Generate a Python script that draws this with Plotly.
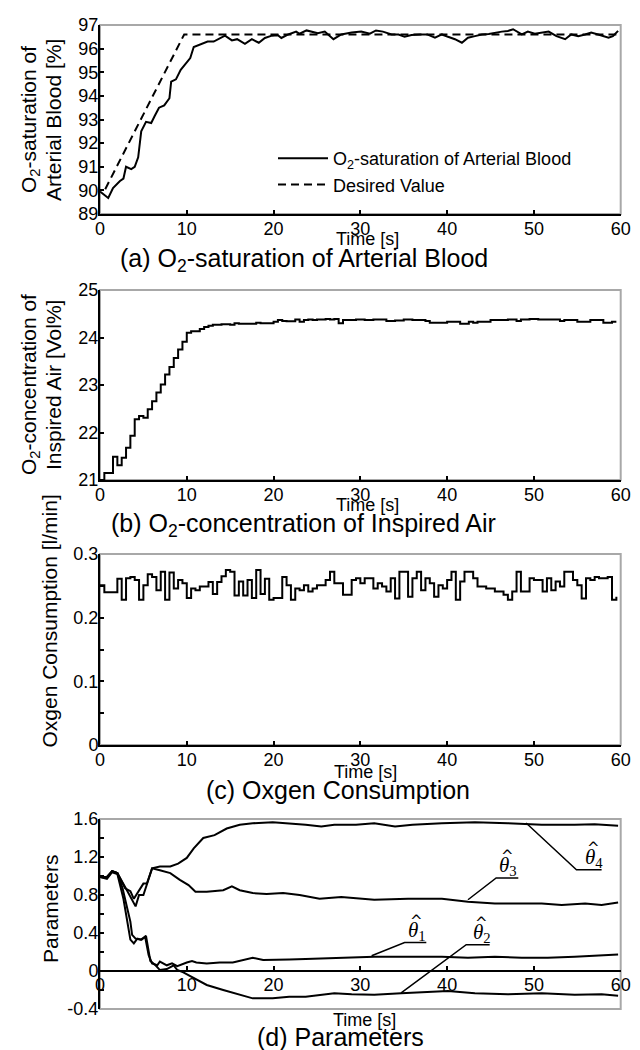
import numpy as np
import plotly.graph_objects as go

W, H = 640, 1050
FONT = "Liberation Sans, Arial, sans-serif"
SERIF = "Liberation Serif, Times New Roman, serif"

# ---------------- data ----------------
# (a) O2-saturation of arterial blood [%]
t_sat = [0.0, 0.95, 1.5, 2.3, 2.7, 3.0, 3.6, 4.0, 4.4, 4.75, 5.3, 5.9, 6.3, 6.8, 7.4, 8.0, 8.2,
         8.75, 9.3, 9.9, 10.4, 10.8, 11.4, 12.4, 13.1, 13.7, 14.4, 15.2, 15.8, 16.7, 17.5, 18.3,
         19.0, 19.8, 20.5, 20.9, 21.7, 22.6, 23.0, 23.8, 24.3, 25.1, 25.9, 26.9, 27.8, 29.0,
         30.1, 31.1, 31.8, 32.6, 33.6, 34.4, 35.1, 35.9, 36.9, 37.7, 38.6, 39.4, 40.1, 40.9,
         41.7, 42.4, 43.2, 44.0, 44.8, 45.5, 46.3, 47.0, 47.6, 48.6, 49.3, 50.1, 50.9, 51.7,
         52.6, 53.6, 54.3, 55.1, 55.9, 56.6, 57.4, 58.0, 58.6, 59.1, 59.7]
sat = [89.95, 89.68, 90.1, 90.4, 90.5, 91.0, 90.9, 91.0, 91.4, 92.5, 92.9, 92.85, 93.15, 93.5,
       93.6, 93.9, 94.6, 94.7, 95.1, 95.4, 95.6, 96.07, 96.15, 96.3, 96.3, 96.4, 96.55, 96.35,
       96.4, 96.2, 96.4, 96.25, 96.45, 96.55, 96.57, 96.45, 96.6, 96.72, 96.63, 96.77, 96.72,
       96.65, 96.72, 96.4, 96.6, 96.68, 96.72, 96.63, 96.77, 96.72, 96.6, 96.6, 96.5, 96.58,
       96.6, 96.6, 96.46, 96.6, 96.5, 96.4, 96.25, 96.46, 96.53, 96.6, 96.62, 96.68, 96.72,
       96.75, 96.82, 96.6, 96.72, 96.63, 96.68, 96.72, 96.53, 96.4, 96.6, 96.53, 96.6, 96.68,
       96.6, 96.53, 96.46, 96.53, 96.75]
t_des = [0.6, 9.7, 59.5]
desired = [90.05, 96.6, 96.6]

# (b) O2-concentration of inspired air [Vol%], 0.5 s steps
t_conc = [i * 0.5 for i in range(120)]
conc = [21.0, 21.15, 21.15, 21.49, 21.31, 21.47, 21.68, 21.93, 22.28, 22.35,
        22.31, 22.49, 22.66, 22.84, 23.01, 23.22, 23.38, 23.57, 23.75, 23.91,
        24.10, 24.13, 24.13, 24.18, 24.22, 24.25, 24.27, 24.27, 24.28, 24.28,
        24.27, 24.30, 24.29, 24.29, 24.29, 24.29, 24.31, 24.30, 24.30, 24.30,
        24.33, 24.37, 24.35, 24.34, 24.34, 24.38, 24.33, 24.37, 24.38, 24.37,
        24.38, 24.38, 24.39, 24.38, 24.39, 24.30, 24.37, 24.37, 24.37, 24.38,
        24.38, 24.37, 24.37, 24.38, 24.38, 24.38, 24.35, 24.35, 24.36, 24.36,
        24.38, 24.38, 24.37, 24.37, 24.37, 24.35, 24.31, 24.31, 24.31, 24.31,
        24.33, 24.33, 24.33, 24.29, 24.29, 24.33, 24.31, 24.33, 24.33, 24.33,
        24.37, 24.37, 24.37, 24.37, 24.38, 24.38, 24.35, 24.38, 24.38, 24.39,
        24.39, 24.38, 24.38, 24.38, 24.38, 24.38, 24.35, 24.37, 24.37, 24.37,
        24.33, 24.33, 24.33, 24.37, 24.37, 24.37, 24.31, 24.31, 24.33, 24.33]

# (c) Oxygen consumption [l/min], 0.5 s steps
t_cons = [i * 0.5 for i in range(120)]
cons = [0.251, 0.240, 0.240, 0.240, 0.261, 0.228, 0.262, 0.264, 0.259, 0.228,
        0.251, 0.268, 0.264, 0.243, 0.272, 0.228, 0.271, 0.246, 0.259, 0.254,
        0.231, 0.246, 0.243, 0.249, 0.249, 0.256, 0.237, 0.256, 0.265, 0.275,
        0.272, 0.235, 0.257, 0.235, 0.259, 0.231, 0.275, 0.237, 0.261, 0.228,
        0.231, 0.231, 0.264, 0.251, 0.228, 0.246, 0.243, 0.251, 0.241, 0.246,
        0.251, 0.251, 0.259, 0.272, 0.254, 0.254, 0.236, 0.236, 0.259, 0.262,
        0.254, 0.262, 0.262, 0.246, 0.254, 0.249, 0.241, 0.262, 0.230, 0.272,
        0.272, 0.233, 0.262, 0.272, 0.243, 0.262, 0.254, 0.233, 0.251, 0.246,
        0.259, 0.272, 0.228, 0.257, 0.272, 0.272, 0.262, 0.249, 0.249, 0.246,
        0.246, 0.241, 0.241, 0.236, 0.228, 0.241, 0.272, 0.241, 0.241, 0.262,
        0.259, 0.259, 0.241, 0.262, 0.243, 0.257, 0.249, 0.272, 0.272, 0.259,
        0.251, 0.230, 0.262, 0.259, 0.264, 0.262, 0.262, 0.264, 0.228, 0.233]

# (d) Parameters
t_th1 = [0, 0.8, 1.4, 2.0, 2.6, 3.1, 3.5, 3.7, 4.1, 4.7, 5.2, 5.6, 6.0, 6.6, 6.9, 7.7, 8.3,
         8.9, 9.4, 10.0, 10.6, 11.1, 12.3, 13.8, 15.3, 16.5, 17.6, 18.8, 19.9, 21.8, 23.7,
         25.3, 26.3, 28.5, 31.6, 35.5, 39.4, 42.4, 45.5, 48.6, 51.6, 54.7, 57.8, 59.7]
th1 = [0.99, 0.98, 1.05, 1.03, 0.87, 0.66, 0.52, 0.38, 0.34, 0.33, 0.36, 0.17, 0.08, 0.06,
       0.10, 0.06, 0.08, 0.05, 0.07, 0.09, 0.105, 0.09, 0.08, 0.09, 0.09, 0.115, 0.14, 0.115,
       0.115, 0.12, 0.126, 0.13, 0.133, 0.14, 0.15, 0.15, 0.15, 0.14, 0.15, 0.14, 0.14, 0.15,
       0.17, 0.175]
t_th2 = [0, 0.8, 1.4, 2.0, 2.7, 3.1, 3.5, 3.9, 4.3, 4.8, 5.3, 5.8, 6.4, 6.9, 7.7, 8.5, 8.9,
         9.6, 10.8, 12.3, 14.2, 16.1, 17.6, 19.9, 21.8, 23.7, 25.5, 27.0, 29.0, 31.6, 34.7,
         37.4, 40.1, 43.2, 47.0, 50.9, 54.7, 57.8, 59.7]
th2 = [0.99, 0.97, 1.04, 1.02, 0.76, 0.55, 0.33, 0.29, 0.34, 0.33, 0.37, 0.105, 0.06, 0.01,
       0.02, 0.06, 0.01, -0.015, -0.077, -0.147, -0.2, -0.25, -0.288, -0.288, -0.27, -0.27,
       -0.25, -0.235, -0.245, -0.25, -0.235, -0.22, -0.21, -0.235, -0.245, -0.235, -0.25,
       -0.245, -0.26]
t_th3 = [0, 0.8, 1.4, 2.0, 3.1, 3.9, 4.1, 4.5, 5.0, 5.4, 6.0, 6.9, 8.1, 9.2, 10.2, 11.0, 12.3,
         14.2, 15.2, 16.1, 17.6, 19.2, 21.1, 23.0, 25.3, 27.8, 31.6, 35.5, 39.4, 42.4, 45.5,
         48.6, 50.9, 53.2, 55.9, 57.8, 59.7]
th3 = [0.99, 0.99, 1.05, 1.03, 0.85, 0.71, 0.68, 0.80, 0.80, 0.91, 1.08, 1.06, 1.03, 0.96,
       0.905, 0.835, 0.835, 0.85, 0.89, 0.85, 0.82, 0.81, 0.82, 0.80, 0.76, 0.78, 0.75, 0.76,
       0.76, 0.73, 0.71, 0.71, 0.71, 0.695, 0.71, 0.695, 0.72]
t_th4 = [0, 0.8, 1.4, 2.0, 2.9, 3.5, 3.9, 4.3, 5.0, 5.4, 6.0, 6.9, 8.1, 9.0, 10.0, 10.8, 11.9,
         13.2, 14.6, 16.1, 17.6, 19.9, 21.8, 23.7, 25.5, 27.0, 29.5, 31.6, 34.0, 36.0, 39.4,
         43.2, 47.0, 50.9, 54.7, 57.0, 59.7]
th4 = [0.99, 0.99, 1.05, 1.03, 0.87, 0.84, 0.76, 0.82, 0.92, 0.92, 1.08, 1.10, 1.10, 1.13,
       1.19, 1.29, 1.40, 1.43, 1.50, 1.54, 1.555, 1.565, 1.555, 1.54, 1.52, 1.54, 1.54, 1.555,
       1.52, 1.54, 1.555, 1.565, 1.555, 1.54, 1.54, 1.545, 1.53]

x_ticks = [0, 10, 20, 30, 40, 50, 60]
y_ticks = [[89, 90, 91, 92, 93, 94, 95, 96, 97],
           [21, 22, 23, 24, 25],
           [0, 0.1, 0.2, 0.3],
           [-0.4, 0, 0.4, 0.8, 1.2, 1.6]]
y_ticktext = [["89", "90", "91", "92", "93", "94", "95", "96", "97"],
              ["21", "22", "23", "24", "25"],
              ["0", "0.1", "0.2", "0.3"],
              ["-0.4", "0", "0.4", "0.8", "1.2", "1.6"]]
panel_titles = ["(a) O<sub>2</sub>-saturation of Arterial Blood",
                "(b) O<sub>2</sub>-concentration of Inspired Air",
                "(c) Oxgen Consumption",
                "(d) Parameters"]
x_title = "Time [s]"
# callouts for parameter labels: (index, [t start, t elbow, t end], [y start, y elbow], t label)
callouts = [("1", [31.3, 35.1, 37.6], [0.16, 0.30], 35.3),
            ("2", [34.7, 42.2, 44.9], [-0.23, 0.277], 42.8),
            ("3", [42.4, 45.65, 48.2], [0.75, 0.98], 45.8),
            ("4", [49.1, 54.9, 57.8], [1.558, 1.066], 55.6)]

# ---------------- layout helpers ----------------
def px(x):
    return x / W

def py(y):
    return 1 - y / H

XL, XR = 92, 612.7
panels = [(17, 206), (282, 472), (546, 737), (811, 1001)]

fig = go.Figure()
LW = 2
fig.add_trace(go.Scatter(x=t_sat, y=sat, mode="lines", line=dict(color="black", width=LW),
                         name="O<sub>2</sub>-saturation of Arterial Blood", xaxis="x", yaxis="y"))
fig.add_trace(go.Scatter(x=t_des, y=desired, mode="lines",
                         line=dict(color="black", width=LW, dash="8px,5px"),
                         name="Desired Value", xaxis="x", yaxis="y"))
fig.add_trace(go.Scatter(x=t_conc, y=conc, mode="lines", line=dict(color="black", width=LW, shape="hv"),
                         showlegend=False, xaxis="x2", yaxis="y2"))
fig.add_trace(go.Scatter(x=t_cons, y=cons, mode="lines", line=dict(color="black", width=LW, shape="hv"),
                         showlegend=False, xaxis="x3", yaxis="y3"))
for tt, vv in [(t_th1, th1), (t_th2, th2), (t_th3, th3), (t_th4, th4)]:
    fig.add_trace(go.Scatter(x=tt, y=vv, mode="lines", line=dict(color="black", width=LW),
                             showlegend=False, xaxis="x4", yaxis="y4"))

tickfont = dict(family=FONT, size=18, color="black")
yranges = [[89, 97], [21, 25], [0, 0.3], [-0.4, 1.6]]
yminor = [None, None, 0.05, 0.2]

layout = dict(template="none", width=W, height=H,
              margin=dict(l=0, r=0, t=0, b=0, pad=0, autoexpand=False),
              paper_bgcolor="white", plot_bgcolor="white",
              font=dict(family=FONT, size=18, color="black"),
              showlegend=True,
              legend=dict(x=px(265), y=py(132), xanchor="left", yanchor="top",
                          bgcolor="rgba(0,0,0,0)", borderwidth=0, font=dict(family=FONT, size=18),
                          tracegroupgap=0, itemwidth=50))
shapes = []
annotations = []
for i, (top, bot) in enumerate(panels):
    k = "" if i == 0 else str(i + 1)
    xa = dict(domain=[px(XL), px(XR)], range=[0, 60], tickvals=x_ticks,
              ticks="inside", ticklen=4, tickwidth=2, tickcolor="black",
              showline=True, linecolor="black", linewidth=2, mirror=False,
              showgrid=False, zeroline=False, tickfont=tickfont, automargin=False,
              ticklabelstandoff=-3)
    if i == 3:
        zero_px = top + (bot - top) * (1.6 / 2.0)
        xa.update(anchor="free", position=py(zero_px))
    else:
        xa.update(anchor="y" + k)
    ya = dict(domain=[py(bot), py(top)], range=yranges[i],
              tickvals=y_ticks[i], ticktext=y_ticktext[i],
              ticks="inside", ticklen=4, tickwidth=2, tickcolor="black",
              showline=True, linecolor="black", linewidth=2, mirror=False,
              showgrid=False, zeroline=False, tickfont=tickfont, anchor="x" + k,
              automargin=False, ticklabelstandoff=-4)
    if yminor[i]:
        ya["minor"] = dict(tick0=0, dtick=yminor[i], ticks="inside", ticklen=4, tickwidth=2,
                           tickcolor="black", showgrid=False)
    layout["xaxis" + k] = xa
    layout["yaxis" + k] = ya
    shapes.append(dict(type="rect", xref="x" + k + " domain", yref="y" + k + " domain",
                       x0=0, x1=1, y0=0, y1=1, line=dict(color="#a8a8a8", width=2),
                       layer="below"))

# x titles and panel titles
xt_y = [231, 497, 764, 1012]
xt_x = [359, 359, 357, 356]
tt_y = [252, 517, 782, 1029]
tt_x = [296, 295, 330, 332]
for i in range(4):
    annotations.append(dict(text=x_title, x=px(xt_x[i]), y=py(xt_y[i]), xref="paper", yref="paper",
                            showarrow=False, font=dict(family=FONT, size=18),
                            xanchor="center", yanchor="middle"))
    annotations.append(dict(text=panel_titles[i], x=px(tt_x[i]), y=py(tt_y[i]), xref="paper",
                            yref="paper", showarrow=False, font=dict(family=FONT, size=25),
                            xanchor="center", yanchor="middle"))

# y titles
ytitles = [("O<sub>2</sub>-saturation of", 22, 112), ("Arterial Blood [%]", 45, 112),
           ("O<sub>2</sub>-concentration of", 22, 377), ("Inspired Air [Vol%]", 45, 377),
           ("Parameters", 42, 901)]
for txt, xx, yy in ytitles:
    annotations.append(dict(text=txt, x=px(xx), y=py(yy), xref="paper", yref="paper",
                            showarrow=False, textangle=-90, font=dict(family=FONT, size=21),
                            xanchor="center", yanchor="middle"))
annotations.append(dict(text="Oxgen Consumption [l/min]", x=px(41), y=py(742), xref="paper",
                        yref="paper", showarrow=False, textangle=-90,
                        font=dict(family=FONT, size=21), xanchor="center", yanchor="bottom"))

# parameter callouts (leader line + hatted theta label)
for lab, xs, ys, xl in callouts:
    shapes.append(dict(type="path", xref="x4", yref="y4",
                       path=f"M {xs[0]} {ys[0]} L {xs[1]} {ys[1]} L {xs[2]} {ys[1]}",
                       line=dict(color="black", width=1.5)))
    annotations.append(dict(text="<i>θ</i><sub>" + lab + "</sub>", x=xl, y=ys[1],
                            xref="x4", yref="y4", showarrow=False,
                            xanchor="left", yanchor="bottom", yshift=-3,
                            font=dict(family=SERIF, size=21)))
    annotations.append(dict(text="^", x=xl, y=ys[1], xref="x4", yref="y4", showarrow=False,
                            xanchor="left", yanchor="bottom", xshift=2, yshift=11,
                            font=dict(family="DejaVu Sans, sans-serif", size=15)))

layout["shapes"] = shapes
layout["annotations"] = annotations
fig.update_layout(**layout)
fig.write_html("out.html")
